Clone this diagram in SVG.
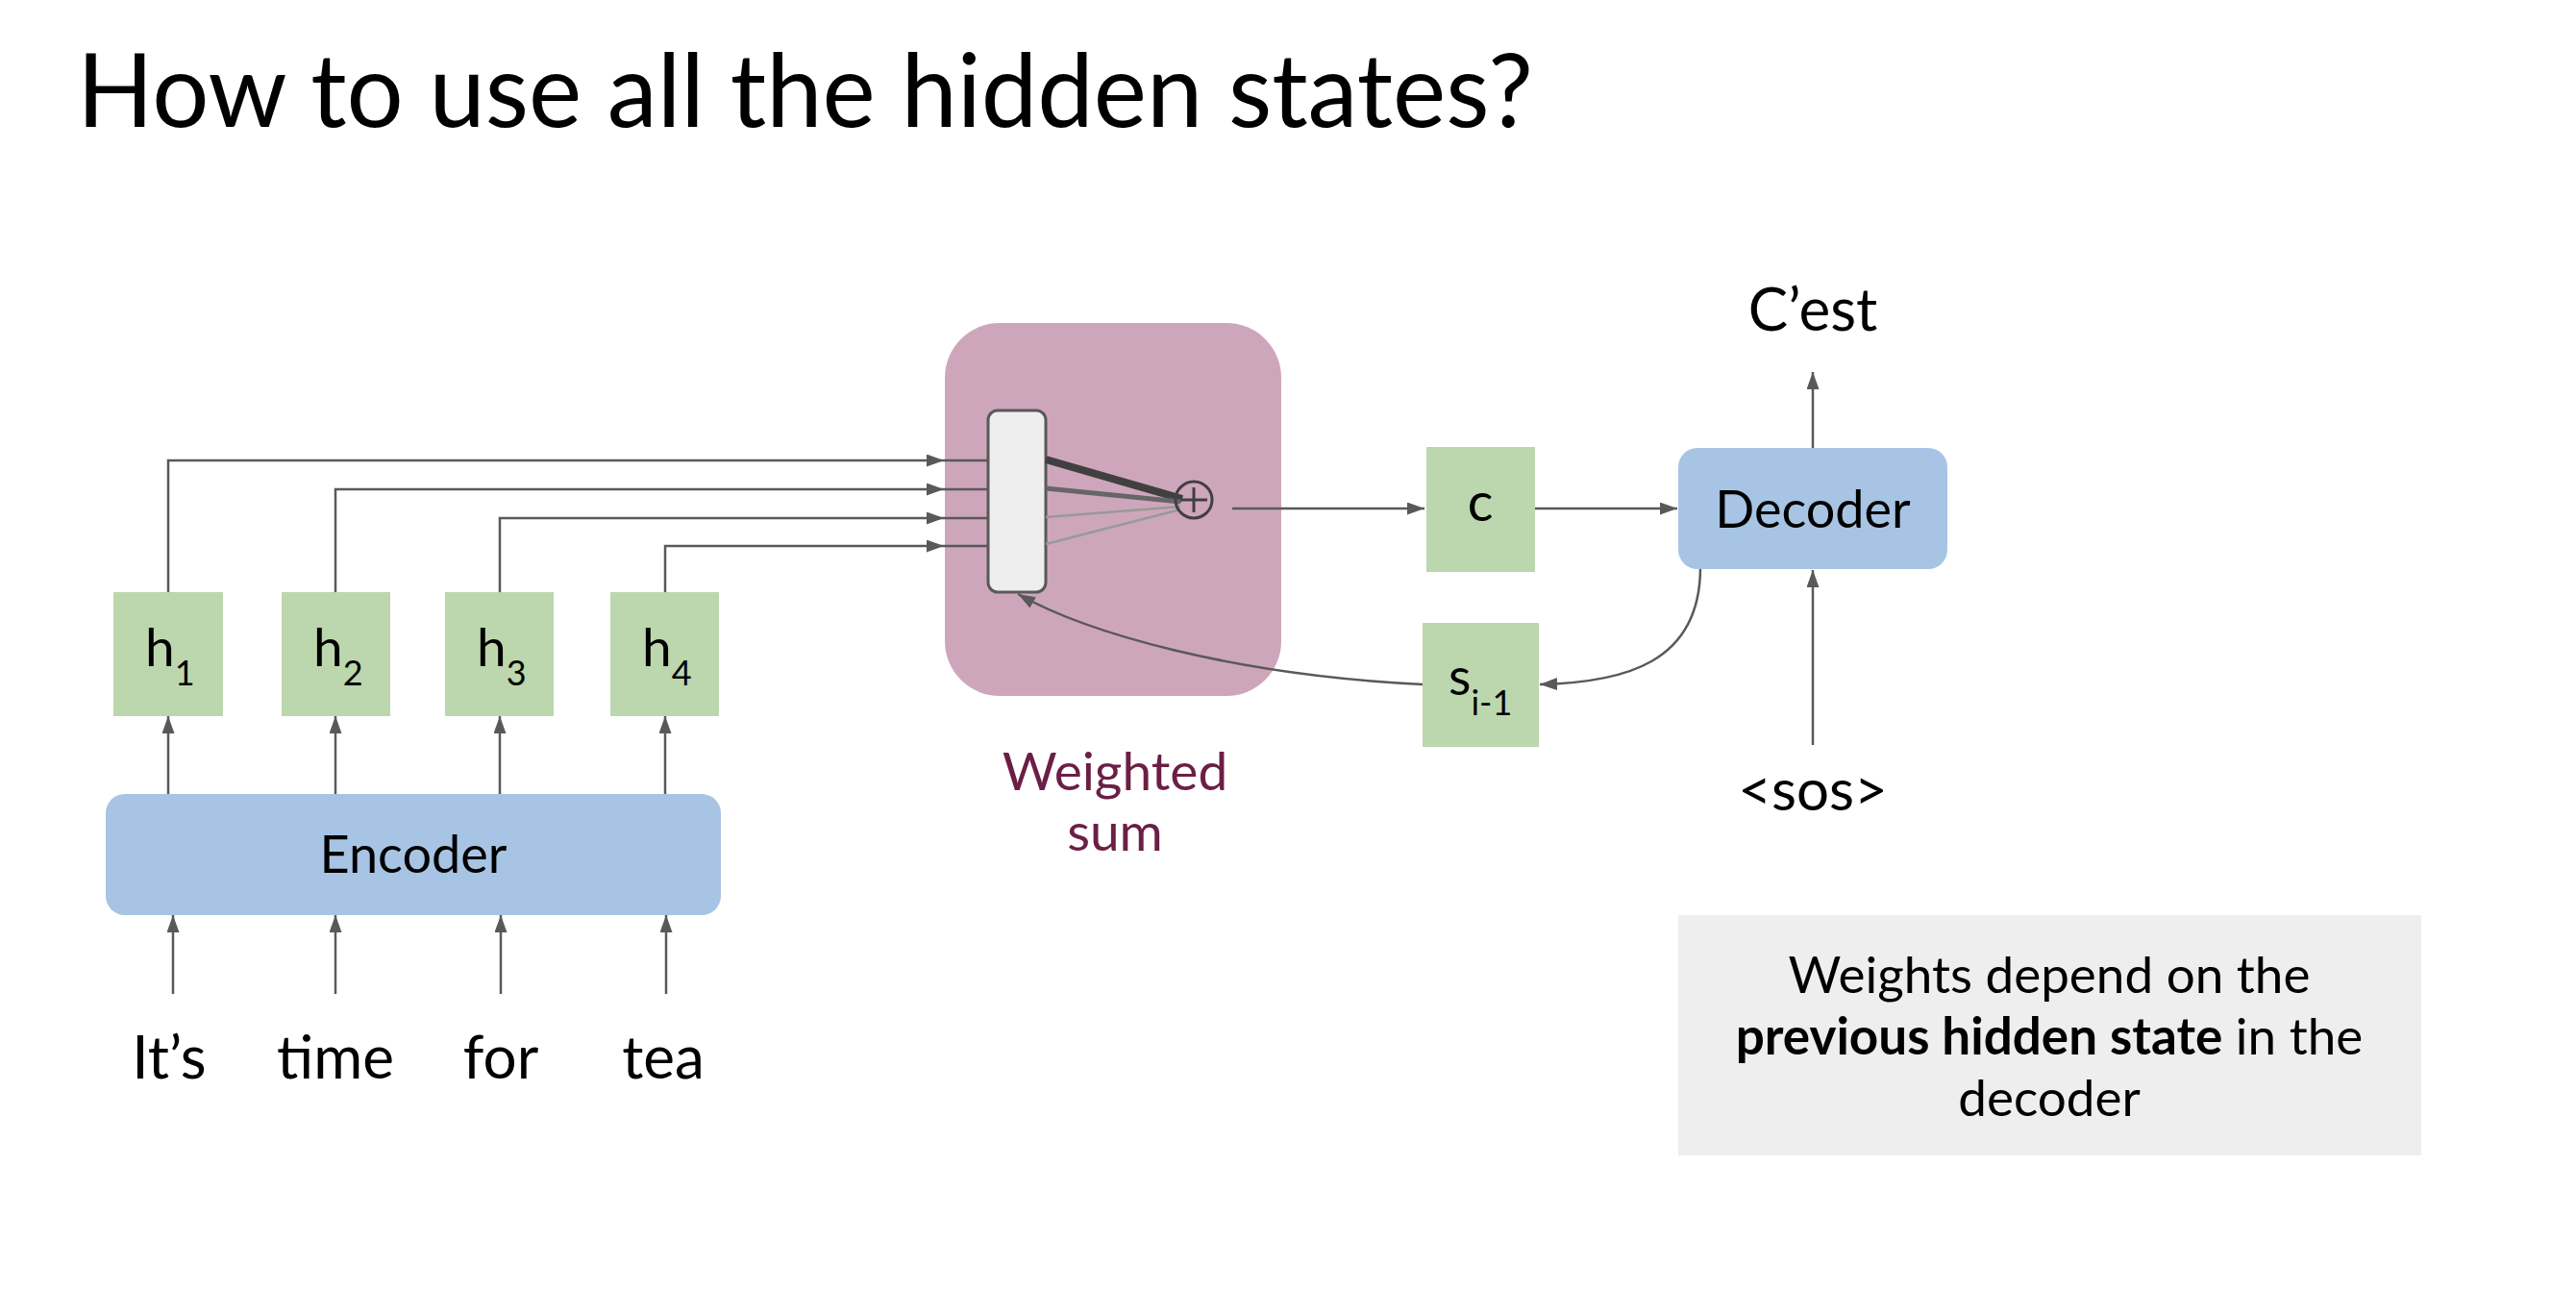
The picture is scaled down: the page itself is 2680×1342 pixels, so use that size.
<svg xmlns="http://www.w3.org/2000/svg" width="2680" height="1342" viewBox="0 0 2680 1342">
<defs>
<marker id="arr" markerUnits="userSpaceOnUse" markerWidth="18" markerHeight="13" refX="18" refY="6.5" orient="auto">
<path d="M0,0 L18,6.5 L0,13 z" fill="#595959"/>
</marker>
<style>
text{font-family:Lato,"Liberation Sans",sans-serif;fill:#000}
.green{fill:#bcd7ad}
.blue{fill:#a8c4e4}
.conn{fill:none;stroke:#595959;stroke-width:2.5}
.arrow{marker-end:url(#arr)}
.mid{text-anchor:middle}
</style>
</defs>
<rect width="2680" height="1342" fill="#fff"/>
<text id="title" x="80" y="132" font-size="107" textLength="1515" lengthAdjust="spacingAndGlyphs">How to use all the hidden states?</text>

<g id="weighted-sum">
<rect x="983" y="336" width="350" height="388" rx="57" fill="#cea6bc"/>
<rect x="1028" y="427" width="60" height="189" rx="10" fill="#eeeeee" stroke="#595959" stroke-width="3"/>
<line x1="1088" y1="478" x2="1230" y2="519" stroke="#404040" stroke-width="8"/>
<line x1="1088" y1="508" x2="1228" y2="522" stroke="#666666" stroke-width="5"/>
<line x1="1088" y1="538" x2="1228" y2="527" stroke="#999999" stroke-width="2.5"/>
<line x1="1088" y1="566" x2="1228" y2="530" stroke="#999999" stroke-width="2.5"/>
<circle cx="1242" cy="520" r="19" fill="none" stroke="#404040" stroke-width="3"/>
<path d="M1229,520 H1256 M1242,507 V533" stroke="#404040" stroke-width="3"/>
<text class="mid" x="1160" y="822" font-size="55" style="fill:#6b1f45">Weighted</text>
<text class="mid" x="1160" y="885" font-size="55" style="fill:#6b1f45">sum</text>
</g>

<g id="h1"><rect class="green" x="118" y="616" width="114" height="129"/><text x="151" y="693" font-size="55">h<tspan font-size="36" dy="20">1</tspan></text></g>
<g id="h2"><rect class="green" x="293" y="616" width="113" height="129"/><text x="326" y="693" font-size="55">h<tspan font-size="36" dy="20">2</tspan></text></g>
<g id="h3"><rect class="green" x="463" y="616" width="113" height="129"/><text x="496" y="693" font-size="55">h<tspan font-size="36" dy="20">3</tspan></text></g>
<g id="h4"><rect class="green" x="635" y="616" width="113" height="129"/><text x="668" y="693" font-size="55">h<tspan font-size="36" dy="20">4</tspan></text></g>

<g id="encoder"><rect class="blue" x="110" y="826" width="640" height="126" rx="20"/><text class="mid" x="430" y="908" font-size="54">Encoder</text></g>

<g id="words">
<text class="mid" x="176" y="1122" font-size="62">It’s</text>
<text class="mid" x="349" y="1122" font-size="62">time</text>
<text class="mid" x="521" y="1122" font-size="62">for</text>
<text class="mid" x="690" y="1122" font-size="62">tea</text>
</g>

<g id="c"><rect class="green" x="1484" y="465" width="113" height="130"/><text class="mid" x="1540" y="542" font-size="56">c</text></g>

<g id="s"><rect class="green" x="1480" y="648" width="121" height="129"/><text x="1507" y="723" font-size="54">s<tspan font-size="36" dy="21">i-1</tspan></text></g>

<g id="decoder"><rect class="blue" x="1746" y="466" width="280" height="126" rx="20"/><text class="mid" x="1886" y="549" font-size="54">Decoder</text></g>

<g id="cest"><text class="mid" x="1886" y="344" font-size="62">C’est</text></g>
<g id="sos"><text class="mid" x="1886" y="843" font-size="60">&lt;sos&gt;</text></g>

<g id="note">
<rect x="1746" y="952" width="773" height="250" fill="#eeeeee"/>
<text class="mid" x="2132" y="1033" font-size="53">Weights depend on the</text>
<text class="mid" x="2132" y="1097" font-size="53"><tspan font-weight="700">previous hidden state</tspan> in the</text>
<text class="mid" x="2132" y="1161" font-size="53">decoder</text>
</g>

<g id="connectors">
<path class="conn arrow" d="M175,616 V479 H982"/>
<path class="conn arrow" d="M349,616 V509 H982"/>
<path class="conn arrow" d="M520,616 V539 H982"/>
<path class="conn arrow" d="M692,616 V568 H982"/>
<path class="conn" d="M982,479 H1028 M982,509 H1028 M982,539 H1028 M982,568 H1028"/>
<path class="conn arrow" d="M175,826 V745"/>
<path class="conn arrow" d="M349,826 V745"/>
<path class="conn arrow" d="M520,826 V745"/>
<path class="conn arrow" d="M692,826 V745"/>
<path class="conn arrow" d="M180,1034 V952"/>
<path class="conn arrow" d="M349,1034 V952"/>
<path class="conn arrow" d="M521,1034 V952"/>
<path class="conn arrow" d="M693,1034 V952"/>
<path class="conn arrow" d="M1282,529 H1482"/>
<path class="conn arrow" d="M1597,529 H1745"/>
<path class="conn arrow" d="M1886,466 V387"/>
<path class="conn arrow" d="M1886,775 V593"/>
<path class="conn arrow" d="M1769,592 C1768,690 1690,710 1602,712"/>
<path class="conn arrow" d="M1480,712 C1280,702 1130,658 1059,618"/>
</g>
</svg>
